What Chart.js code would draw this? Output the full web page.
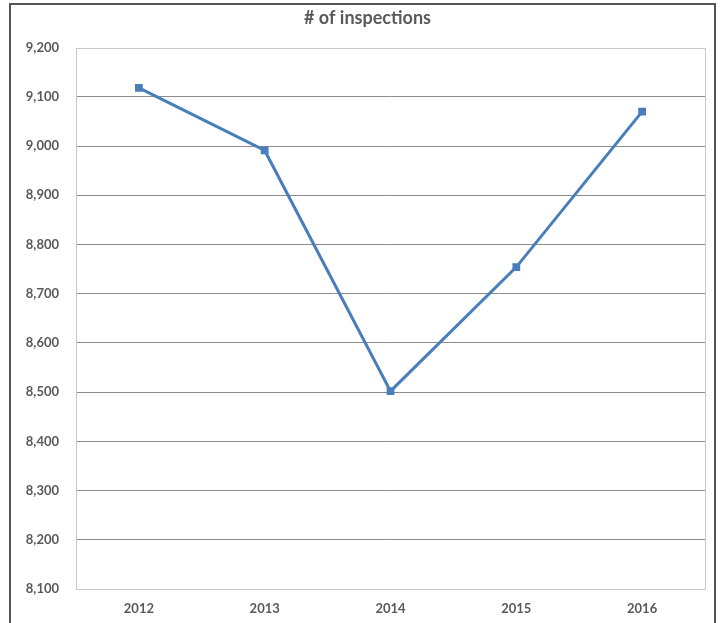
<!DOCTYPE html>
<html lang="en">
<head>
    <meta charset="UTF-8">
    <title># of inspections</title>
    <style>
        body {
            margin: 0;
            background: #fff;
        }
        #frame {
            position: absolute;
            left: 9px;
            top: 3px;
            width: 703px;
            height: 640px;
            border: 2px solid #555;
        }
        #wrap {
            position: absolute;
            left: 0;
            top: 0;
            width: 723px;
            height: 623px;
        }
    </style>
</head>
<body>
    <div id="frame"></div>
    <div id="wrap"><canvas id="inspChart"></canvas></div>

    <script src="https://cdn.jsdelivr.net/npm/chart.js"></script>
    <script>
        const years = ['2012', '2013', '2014', '2015', '2016'];
        const inspections = [9118, 8991, 8502, 8754, 9070];
        const yMin = 8100;
        const yMax = 9200;
        const yStep = 100;

        const textGray = '#595959';
        const fontFamily = 'Lato, "Open Sans", sans-serif';

        // light frame around the plot area
        const plotBorder = {
            id: 'plotBorder',
            afterLayout(chart) {
                // let the y labels use the space left of the padding (no clipping)
                chart.scales.y.left = 0;
            },
            beforeDatasetsDraw(chart) {
                const a = chart.chartArea;
                const ctx = chart.ctx;
                ctx.save();
                ctx.strokeStyle = '#c9c9c9';
                ctx.lineWidth = 1;
                ctx.strokeRect(Math.round(a.left) + 0.5, Math.round(a.top) + 0.5,
                    Math.round(a.right - a.left), Math.round(a.bottom - a.top));
                ctx.restore();
            }
        };

        const ctx = document.getElementById('inspChart').getContext('2d');
        new Chart(ctx, {
            type: 'line',
            data: {
                labels: years,
                datasets: [{
                    label: '# of inspections',
                    data: inspections,
                    borderColor: '#4a7ebb',
                    backgroundColor: '#4a7ebb',
                    borderWidth: 3,
                    pointStyle: 'rect',
                    pointRadius: 5.5,
                    pointBorderWidth: 0,
                    tension: 0
                }]
            },
            plugins: [plotBorder],
            options: {
                responsive: true,
                maintainAspectRatio: false,
                animation: false,
                layout: {
                    padding: { left: 30, right: 18, top: 0, bottom: 0 }
                },
                plugins: {
                    legend: { display: false },
                    tooltip: { enabled: false },
                    title: {
                        display: true,
                        text: '# of inspections',
                        color: textGray,
                        font: { family: fontFamily, size: 18, weight: 'bold' },
                        padding: { top: 7, bottom: 19 }
                    }
                },
                scales: {
                    x: {
                        offset: true,
                        grid: { display: false },
                        border: { display: false },
                        ticks: {
                            color: textGray,
                            padding: 4,
                            font: { family: fontFamily, size: 13, weight: 'bold' }
                        },
                        afterFit(scale) { scale.height = 34; }
                    },
                    y: {
                        min: yMin,
                        max: yMax,
                        grid: {
                            color: (c) => (c.tick && (c.tick.value === yMin || c.tick.value === yMax)) ? 'rgba(0,0,0,0)' : '#8c8c8c',
                            drawTicks: false
                        },
                        border: { display: false },
                        ticks: {
                            stepSize: yStep,
                            color: textGray,
                            padding: 17,
                            font: { family: fontFamily, size: 13, weight: 'bold' },
                            callback: (v) => v.toLocaleString('en-US')
                        },
                        afterFit(scale) { scale.width = 46; }
                    }
                }
            }
        });
    </script>
</body>
</html>
